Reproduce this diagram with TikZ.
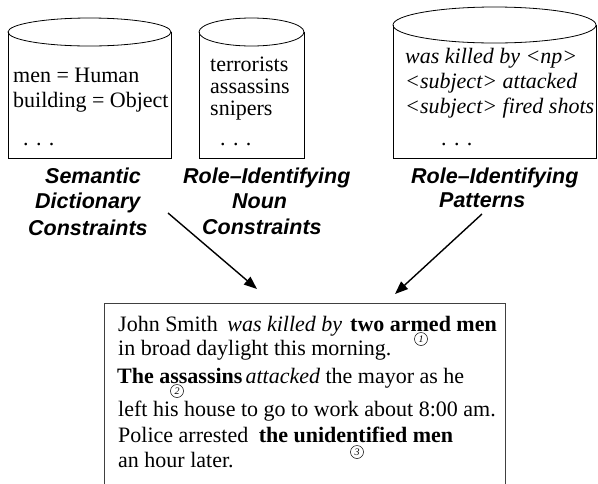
\documentclass[tikz,border=0pt]{standalone}
\usepackage{fontspec}
\setmainfont{Liberation Serif}
\setsansfont{Liberation Sans}
\usetikzlibrary{arrows.meta}
\begin{document}
\begin{tikzpicture}[x=1pt,y=-1pt,
  txt/.style={anchor=base west, inner sep=0pt, font=\fontsize{22}{25}\selectfont},
  itxt/.style={txt, font=\fontsize{22}{25}\selectfont\itshape},
  lbl/.style={anchor=base west, inner sep=0pt, font=\fontsize{21.5}{24}\selectfont\sffamily\bfseries\itshape},
  cyl/.style={draw=black, line width=0.8pt},
  arr/.style={line width=1.4pt, -{Triangle[length=13pt,width=10pt]}},
  num/.style={circle, draw, line width=0.5pt, inner sep=0pt, minimum size=13pt, font=\fontsize{10}{10}\selectfont\itshape}]
\useasboundingbox (0,0) rectangle (598,483);

% cylinders
\draw[cyl] (8,32) -- (8,158) -- (171,158) -- (171,32);
\draw[cyl] (89.5,32) ellipse [x radius=81.5pt, y radius=14pt];
\draw[cyl] (199,32) -- (199,158) -- (304,158) -- (304,32);
\draw[cyl] (251.5,32) ellipse [x radius=52.5pt, y radius=14pt];
\draw[cyl] (393,25) -- (393,158) -- (596,158) -- (596,25);
\draw[cyl] (494.5,25) ellipse [x radius=101.5pt, y radius=18pt];

% cylinder contents
\node[txt] (c1a) at (13,82) {men = Human};
\node[txt] (c1b) at (13,107) {building = Object};
\node[txt] (c1c) at (23,145) {. . .};
\node[txt] (c2a) at (210,71) {terrorists};
\node[txt] (c2b) at (210,93) {assassins};
\node[txt] (c2c) at (210,115) {snipers};
\node[txt] (c2d) at (220,145) {. . .};
\node[itxt] (c3a) at (405,63) {was killed by <np>};
\node[itxt] (c3b) at (405,88) {<subject> attacked};
\node[itxt] (c3c) at (405,113) {<subject> fired shots};
\node[txt] (c3d) at (441,145) {. . .};

% labels
\node[lbl] (l1a) at (45,183) {Semantic};
\node[lbl] (l1b) at (35,208) {Dictionary};
\node[lbl] (l1c) at (28,235) {Constraints};
\node[lbl] (l2a) at (183,183) {Role–Identifying};
\node[lbl] (l2b) at (232,208) {Noun};
\node[lbl] (l2c) at (202,234) {Constraints};
\node[lbl] (l3a) at (411,183) {Role–Identifying};
\node[lbl] (l3b) at (439,207) {Patterns};

% arrows
\coordinate (a1s) at (168,213);
\coordinate (a1e) at (257,289);
\coordinate (a2s) at (482,214);
\coordinate (a2e) at (395,294);
\draw[arr] (a1s) -- (a1e);
\draw[arr] (a2s) -- (a2e);

% text box
\draw[line width=0.8pt, draw=black!75] (104,486) -- (104,303) -- (505,303) -- (505,486);
\node[txt] (t1) at (118,331) {John Smith\hspace{4pt} \textit{was killed by}\hspace{2.5pt} \textbf{two armed men}};
\node[txt] (t2) at (118,355) {in broad daylight this morning.};
\node[txt] (t3) at (117,383) {\textbf{The assassins}\hspace{3pt}\textit{attacked} the mayor as he};
\node[txt] (t4) at (118,416) {left his house to go to work about 8:00 am.};
\node[txt] (t5) at (118,442) {Police arrested\hspace{5pt} \textbf{the unidentified men}};
\node[txt] (t6) at (118,467) {an hour later.};

% circled numbers
\node[num] (n1) at (421,339) {1};
\node[num] (n2) at (177,391) {2};
\node[num] (n3) at (357,452) {3};
\end{tikzpicture}
\end{document}
